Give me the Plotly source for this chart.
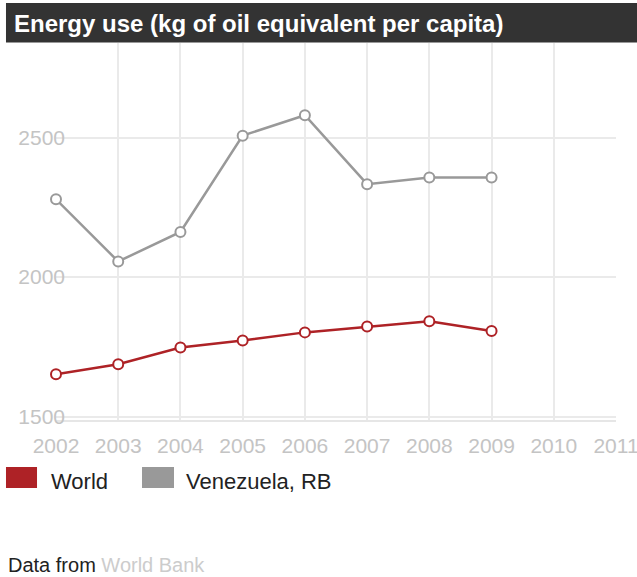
import plotly.graph_objects as go

years = [2002, 2003, 2004, 2005, 2006, 2007, 2008, 2009]
world = [1652, 1688, 1748, 1773, 1802, 1823, 1842, 1807]
venezuela = [2279, 2056, 2162, 2507, 2580, 2333, 2357, 2357]
series_names = ["World", "Venezuela, RB"]
series_colors = ["#ae2226", "#999999"]
x_ticks = [2002, 2003, 2004, 2005, 2006, 2007, 2008, 2009, 2010, 2011]
y_ticks = [1500, 2000, 2500]
title_text = "Energy use (kg of oil equivalent per capita)"

FONT = "Liberation Sans, Arial, sans-serif"

fig = go.Figure()
for name, vals, col in [(series_names[0], world, series_colors[0]),
                        (series_names[1], venezuela, series_colors[1])]:
    fig.add_trace(go.Scatter(
        x=years, y=vals, name=name, mode="lines+markers",
        line=dict(color=col, width=2.5),
        marker=dict(symbol="circle", size=10, color="white",
                    line=dict(color=col, width=2)),
        showlegend=False, cliponaxis=False,
    ))

# title bar
fig.add_shape(type="rect", xref="paper", yref="paper",
              x0=-0.0893, x1=1.04, y0=1.0013, y1=1.106,
              fillcolor="#333333", line=dict(width=0), layer="below")

# legend (manual)
leg_y0, leg_y1 = -0.1804, -0.1247
for i, (x0, x1, tx) in enumerate([(-0.0893, -0.0339, -0.0125), (0.1536, 0.2107, 0.2290)]):
    fig.add_shape(type="rect", xref="paper", yref="paper",
                  x0=x0, x1=x1, y0=leg_y0, y1=leg_y1,
                  fillcolor=series_colors[i], line=dict(width=0))
    fig.add_annotation(xref="paper", yref="paper", x=tx, y=-0.1620,
                       text=series_names[i], showarrow=False,
                       xanchor="left", yanchor="middle",
                       font=dict(family=FONT, size=22, color="#222222"))

fig.add_annotation(xref="paper", yref="paper", x=-0.0893, y=-0.3846,
                   text="Data from <span style='color:#cccccc'>World Bank</span>",
                   showarrow=False, xanchor="left", yanchor="middle",
                   font=dict(family=FONT, size=20, color="#222222"))

fig.update_layout(
    width=637, height=577,
    margin=dict(l=56, r=21, t=43, b=157, pad=0, autoexpand=False),
    paper_bgcolor="white", plot_bgcolor="white",
    title=dict(text=title_text, xref="container", yref="container",
               x=14 / 637, y=1 - 24 / 577, xanchor="left", yanchor="middle",
               font=dict(family=FONT, size=24, color="white", weight="bold")),
    showlegend=False,
    xaxis=dict(range=[2002, 2011], tickvals=x_ticks, ticktext=[str(v) for v in x_ticks],
               showgrid=True, gridcolor="#eaeaea", gridwidth=2,
               showline=True, linecolor="#e6e6e6", linewidth=2,
               zeroline=False, ticks="outside", ticklen=6, tickcolor="rgba(0,0,0,0)",
               ticklabeloverflow="allow", automargin=False,
               tickfont=dict(family=FONT, size=21, color="#c4c4c4")),
    yaxis=dict(range=[1488, 2839], tickvals=y_ticks,
               showgrid=True, gridcolor="#eaeaea", gridwidth=2,
               showline=False, zeroline=False, automargin=False,
               ticklabelstandoff=-10,
               tickfont=dict(family=FONT, size=21, color="#c4c4c4")),
)

fig.write_html("out.html")
